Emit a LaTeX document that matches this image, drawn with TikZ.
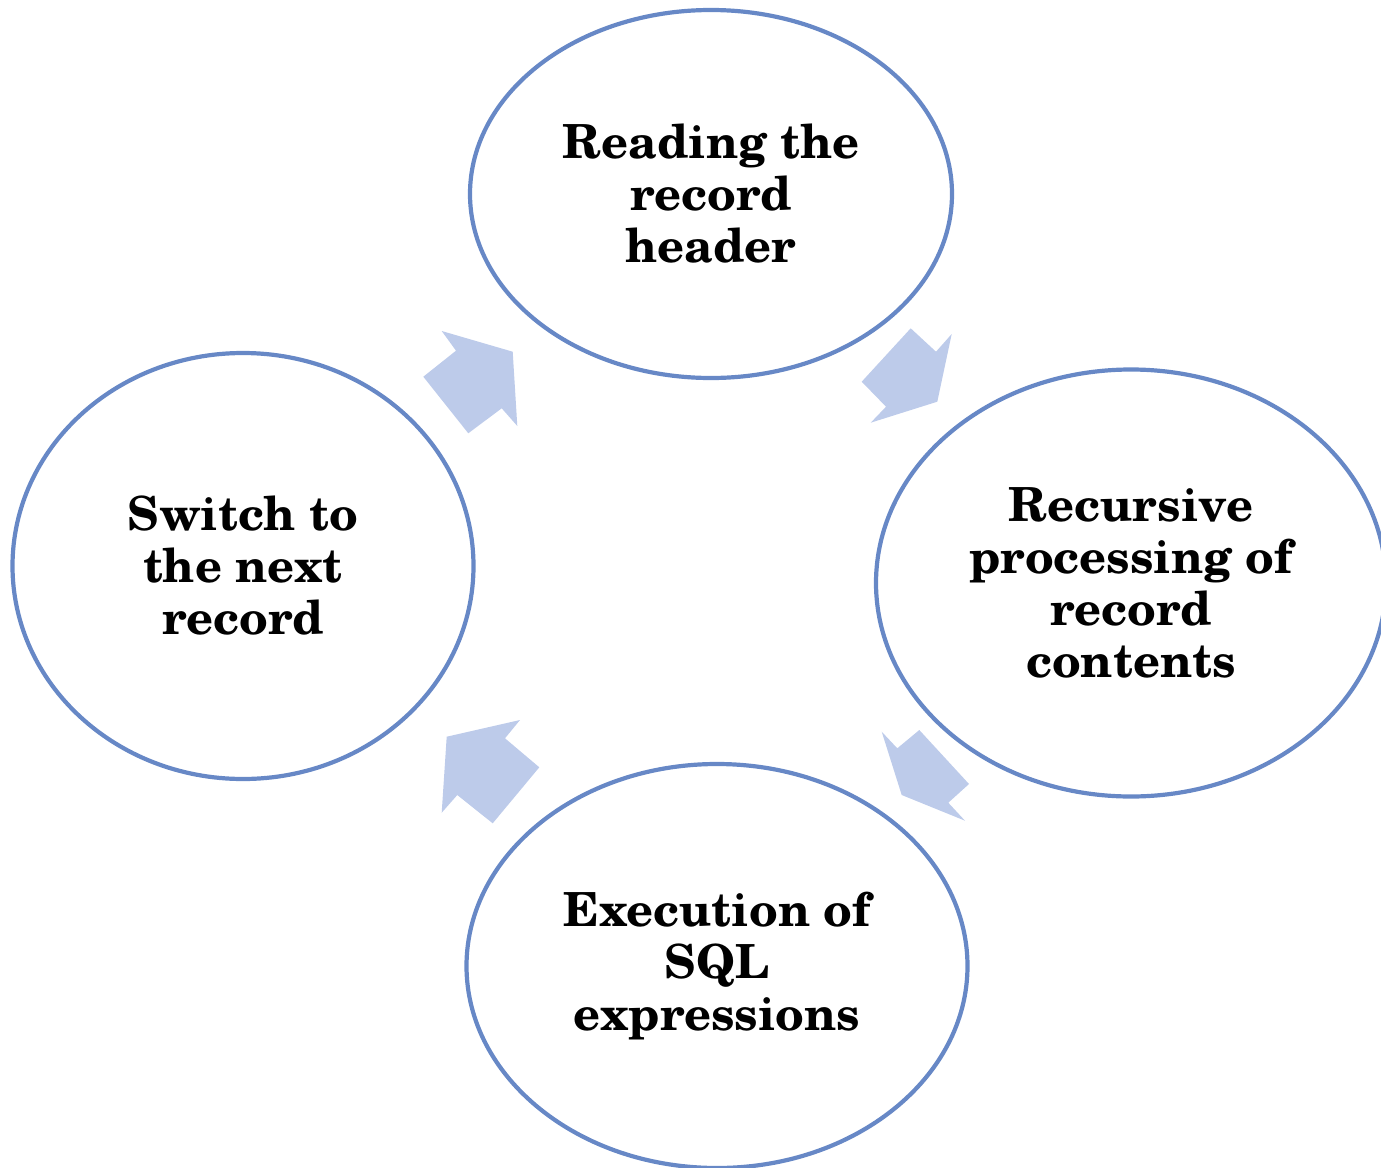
\documentclass[tikz,border=0pt]{standalone}
\usepackage{fontspec}
\setmainfont{TeX Gyre Schola}
\usetikzlibrary{shapes.geometric}

\definecolor{ringblue}{HTML}{6788C6}
\definecolor{arrowfill}{HTML}{BDCBEA}

\tikzset{
  stage/.style={draw=ringblue, line width=4.2pt, ellipse, inner sep=0pt},
  stagetext/.style={align=center, font=\bfseries\fontsize{47}{52}\selectfont},
  flowarrow/.style={fill=arrowfill, draw=none}
}

\begin{document}
\begin{tikzpicture}[x=1pt,y=-1pt]
  \useasboundingbox (0,0) rectangle (1381,1167);
  \clip (0,0) rectangle (1381,1167);

  % four stages of the cycle
  \node[stage, minimum width=482pt, minimum height=368pt] (head) at (711,194) {};
  \node[stage, minimum width=510pt, minimum height=427pt] (recur) at (1131,583) {};
  \node[stage, minimum width=501pt, minimum height=404pt] (sql) at (717,966) {};
  \node[stage, minimum width=461pt, minimum height=426pt] (next) at (243,566) {};

  \node[stagetext] (headtxt) at (head.center) {Reading the\\record\\header};
  \node[stagetext] (recurtxt) at (recur.center) {Recursive\\processing of\\record\\contents};
  \node[stagetext] (sqltxt) at (sql.center) {Execution of\\SQL\\expressions};
  \node[stagetext] (nexttxt) at (next.center) {Switch to\\the next\\record};

  % block arrows between the stages
  \fill[flowarrow] (512.7,351.7) -- (517.3,426) -- (501.7,408.3) -- (468.3,433.3)
    -- (423.3,376.7) -- (456,350.7) -- (441.7,331) -- cycle;
  \fill[flowarrow] (937.3,401.7) -- (870.7,422.7) -- (886,406.7) -- (861.7,381.7)
    -- (910.7,328.3) -- (936,351.7) -- (951.7,334) -- cycle;
  \fill[flowarrow] (901.7,795) -- (881.7,731.7) -- (897.3,748.3) -- (919.3,730)
    -- (969,784) -- (948.3,802.7) -- (965,820.7) -- cycle;
  \fill[flowarrow] (446.7,736.7) -- (520,720) -- (505,738.3) -- (539.3,767.3)
    -- (492.7,823.3) -- (457.3,795) -- (441.7,812.7) -- cycle;
\end{tikzpicture}
\end{document}
